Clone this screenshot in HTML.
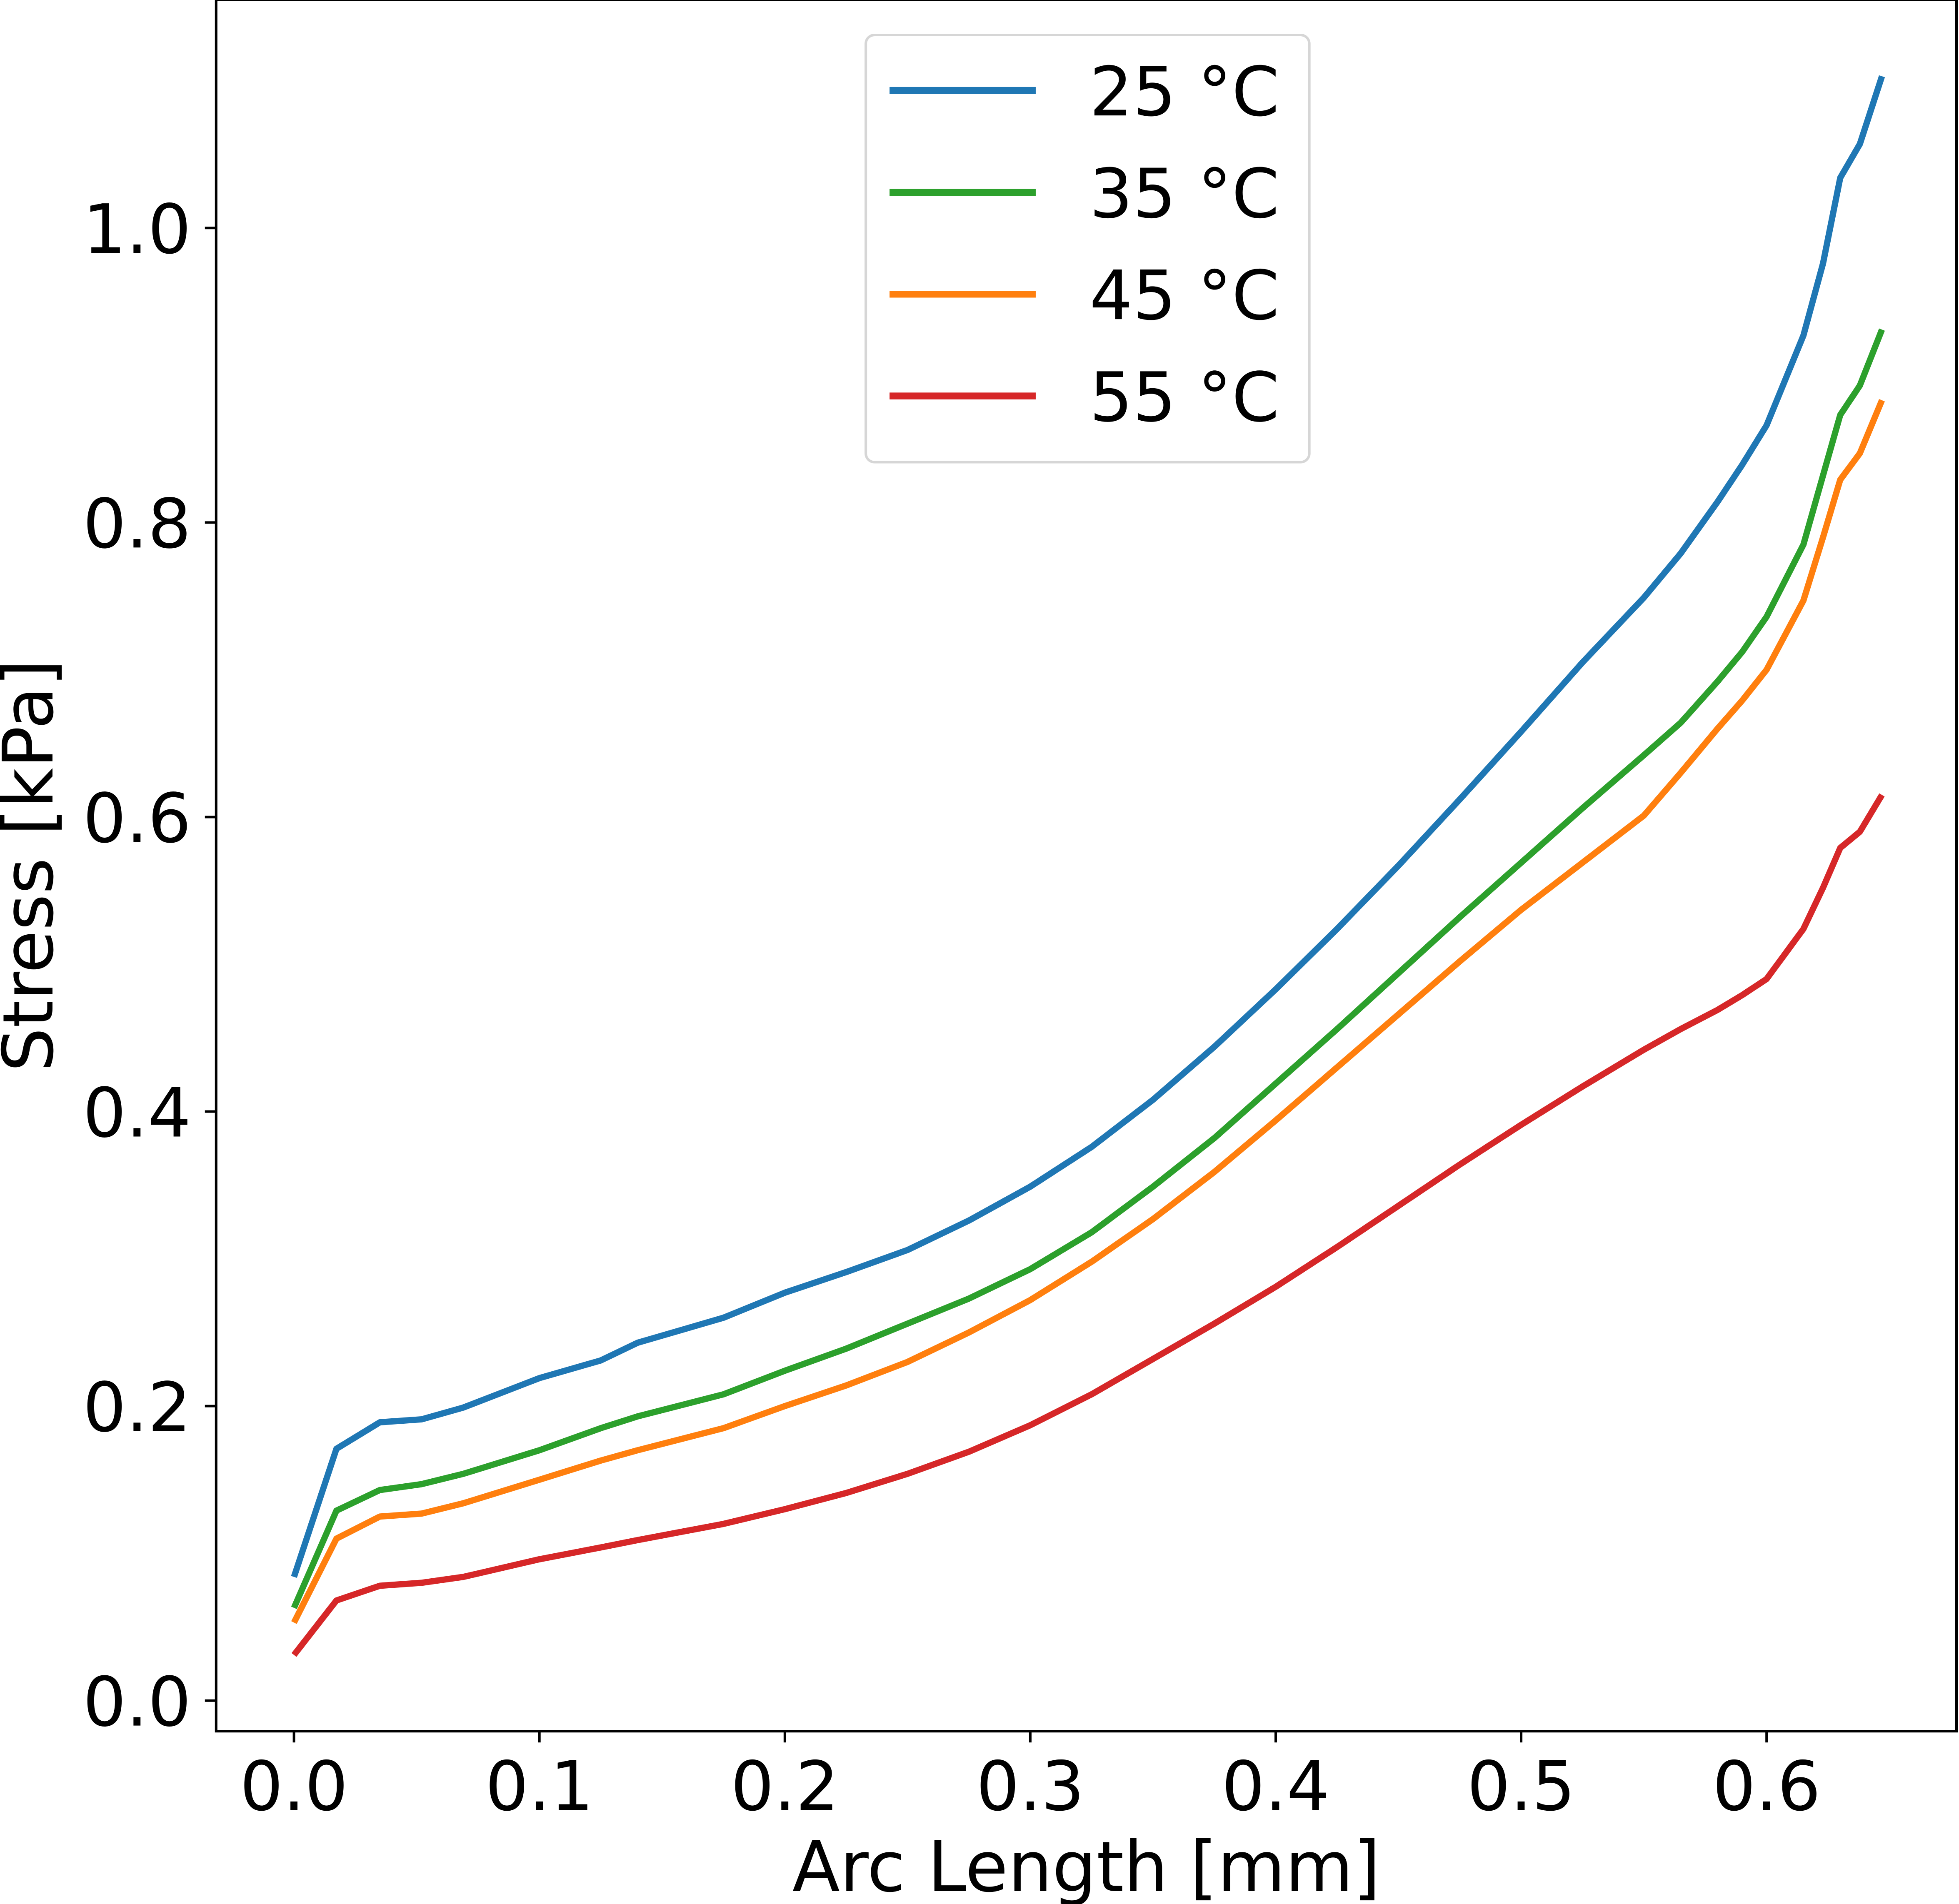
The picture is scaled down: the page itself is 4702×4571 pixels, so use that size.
<!DOCTYPE html>
<html><head><meta charset="utf-8"><style>
html,body{margin:0;padding:0;background:#fff;}
svg{display:block;}
text{font-family:"DejaVu Sans","Liberation Sans",sans-serif;fill:#000;}
</style></head><body>
<svg id="chart" width="4702" height="4571" viewBox="0 0 1568 1524.33" preserveAspectRatio="none" xmlns="http://www.w3.org/2000/svg">
<rect x="0" y="0" width="1568" height="1525" fill="#fff"/>
<g id="plot"></g>
<g id="axes"></g>
<text x="869.5" y="1514" font-size="55.8" text-anchor="middle">Arc Length [mm]</text>
<text transform="translate(42,693) rotate(-90)" font-size="55.8" text-anchor="middle">Stress [kPa]</text>
<g>
<rect x="693" y="28" width="355" height="342" rx="7" fill="#fff" stroke="#d6d6d6" stroke-width="2"/>
<line x1="712" y1="72.4" x2="829" y2="72.4" stroke="#1f77b4" stroke-width="5.5"/>
<text x="872" y="92.4" font-size="54.5">25 °C</text>
<line x1="712" y1="154" x2="829" y2="154" stroke="#2ca02c" stroke-width="5.5"/>
<text x="872" y="174" font-size="54.5">35 °C</text>
<line x1="712" y1="235.5" x2="829" y2="235.5" stroke="#ff7f0e" stroke-width="5.5"/>
<text x="872" y="255.5" font-size="54.5">45 °C</text>
<line x1="712" y1="317" x2="829" y2="317" stroke="#d62728" stroke-width="5.5"/>
<text x="872" y="337" font-size="54.5">55 °C</text>
</g>
</svg>
<script>
const xs  = [0,0.0173,0.035,0.052,0.069,0.1,0.125,0.14,0.175,0.2,0.225,0.25,0.275,0.3,0.325,0.35,0.375,0.4,0.425,0.45,0.475,0.5,0.525,0.55,0.565,0.58,0.59,0.6,0.615,0.623,0.63,0.638,0.647];
const s25 = [0.084,0.171,0.189,0.191,0.199,0.219,0.231,0.243,0.260,0.277,0.291,0.306,0.326,0.349,0.376,0.408,0.444,0.483,0.524,0.567,0.612,0.658,0.705,0.749,0.779,0.814,0.839,0.866,0.927,0.976,1.034,1.057,1.103];
const s35 = [0.063,0.129,0.143,0.147,0.154,0.170,0.185,0.193,0.208,0.224,0.239,0.256,0.273,0.293,0.318,0.349,0.382,0.419,0.456,0.494,0.532,0.569,0.606,0.642,0.664,0.692,0.712,0.736,0.785,0.832,0.873,0.893,0.931];
const s45 = [0.053,0.110,0.125,0.127,0.134,0.150,0.163,0.170,0.185,0.200,0.214,0.230,0.250,0.272,0.298,0.327,0.359,0.394,0.430,0.466,0.502,0.537,0.569,0.601,0.630,0.660,0.679,0.700,0.747,0.790,0.829,0.847,0.883];
const s55 = [0.031,0.068,0.078,0.080,0.084,0.096,0.104,0.109,0.120,0.130,0.141,0.154,0.169,0.187,0.208,0.232,0.256,0.281,0.308,0.336,0.364,0.391,0.417,0.442,0.456,0.469,0.479,0.490,0.524,0.552,0.579,0.590,0.615];
const xTicks = [0,0.1,0.2,0.3,0.4,0.5,0.6];
const yTicks = [0,0.2,0.4,0.6,0.8,1.0];
const xTickLabels = ["0.0","0.1","0.2","0.3","0.4","0.5","0.6"];
const yTickLabels = ["0.0","0.2","0.4","0.6","0.8","1.0"];

const NS="http://www.w3.org/2000/svg";
function X(v){return 235.3+v*1964.5;}
function Y(v){return 1361.5-v*1179;}
const plot=document.getElementById('plot');
const axes=document.getElementById('axes');
function mk(tag,attrs,parent){const e=document.createElementNS(NS,tag);for(const k in attrs)e.setAttribute(k,attrs[k]);parent.appendChild(e);return e;}
const series=[[s25,'#1f77b4','25'],[s35,'#2ca02c','35'],[s45,'#ff7f0e','45'],[s55,'#d62728','55']];
series.forEach(([ys,c,n])=>{
  const d=xs.map((x,i)=>(i?'L':'M')+X(x).toFixed(2)+','+Y(ys[i]).toFixed(2)).join(' ');
  const p=mk('path',{d:d,fill:'none',stroke:c,'stroke-width':5,'stroke-linejoin':'round'},plot);
  
  
});
const frame=mk('rect',{x:173,y:0,width:1393,height:1386,fill:'none',stroke:'#000','stroke-width':2},axes);


xTicks.forEach((v,i)=>{
  const t=mk('line',{x1:X(v),y1:1386,x2:X(v),y2:1395,stroke:'#000','stroke-width':2},axes);
  
  
  const l=mk('text',{x:X(v),y:1449,'font-size':54.5,'text-anchor':'middle'},axes);
  l.textContent=xTickLabels[i];
  
  
});
yTicks.forEach((v,i)=>{
  const t=mk('line',{x1:164,y1:Y(v),x2:173,y2:Y(v),stroke:'#000','stroke-width':2},axes);
  
  
  const l=mk('text',{x:153,y:Y(v)+20,'font-size':54.5,'text-anchor':'end'},axes);
  l.textContent=yTickLabels[i];
  
  
});
</script>
</body></html>
